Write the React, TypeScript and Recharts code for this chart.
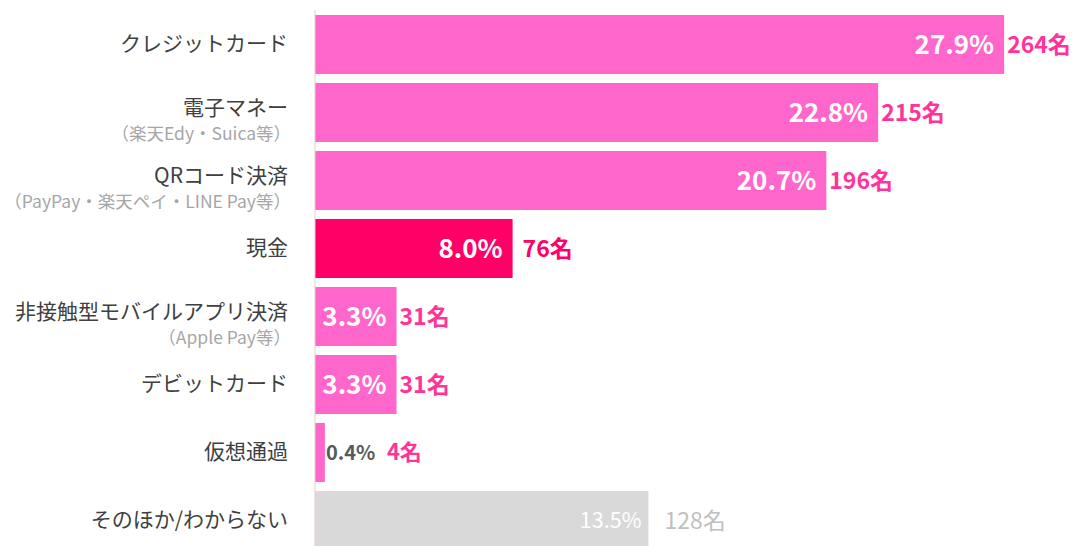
import React from 'react';
import { BarChart, Bar, XAxis, YAxis, Cell, LabelList } from 'recharts';

const categories = [
  'クレジットカード',
  '電子マネー',
  'QRコード決済',
  '現金',
  '非接触型モバイルアプリ決済',
  'デビットカード',
  '仮想通過',
  'そのほか/わからない',
];
const subLabels = ['', '（楽天Edy・Suica等）', '（PayPay・楽天ペイ・LINE Pay等）', '', '（Apple Pay等）', '', '', ''];
const percents = [27.9, 22.8, 20.7, 8.0, 3.3, 3.3, 0.4, 13.5];
const counts = [264, 215, 196, 76, 31, 31, 4, 128];

const barColors = ['#FF66CC', '#FF66CC', '#FF66CC', '#FF0066', '#FF66CC', '#FF66CC', '#FF66CC', '#D9D9D9'];
const countColors = ['#FF3399', '#FF3399', '#FF3399', '#FF0066', '#FF3399', '#FF3399', '#FF3399', '#BFBFBF'];

const FONT = '"Noto Sans CJK JP", "Noto Sans", sans-serif';

const data = categories.map((name, i) => ({ name, value: percents[i], count: counts[i] }));

const CategoryTick = (props: any) => {
  const { y, payload, index } = props;
  const right = 288;
  const sub = subLabels[index];
  if (!sub) {
    return (
      <text x={right} y={y} dy="0.35em" textAnchor="end" fontSize={21} fill="#404040" fontFamily={FONT}>
        {payload.value}
      </text>
    );
  }
  return (
    <g>
      <text x={right} y={y - 4} dy="0.35em" textAnchor="end" fontSize={21} fill="#404040" fontFamily={FONT}>
        {payload.value}
      </text>
      <text x={right + 3} y={y + 22} dy="0.35em" textAnchor="end" fontSize={17.5} fill="#A6A6A6" fontFamily={FONT}>
        {sub}
      </text>
    </g>
  );
};

const ValueLabels = (props: any) => {
  const { x, y, width, height, index } = props;
  const cy = y + height / 2;
  const end = x + width;
  const pct = percents[index].toFixed(1) + '%';
  const cnt = counts[index] + '名';
  if (index === 6) {
    return (
      <g fontFamily={FONT}>
        <text x={end + 1} y={cy} dy="0.35em" fontSize={20} fontWeight="bold" fill="#595959">{pct}</text>
        <text x={end + 62} y={cy} dy="0.35em" fontSize={22} fontWeight="bold" fill={countColors[index]}>{cnt}</text>
      </g>
    );
  }
  if (index === 7) {
    return (
      <g fontFamily={FONT}>
        <text x={end - 7} y={cy} dy="0.35em" textAnchor="end" fontSize={21.5} fill="#FFFFFF">{pct}</text>
        <text x={end + 16} y={cy} dy="0.35em" fontSize={23} fill={countColors[index]}>{cnt}</text>
      </g>
    );
  }
  return (
    <g fontFamily={FONT}>
      <text x={end - 10} y={cy} dy="0.35em" textAnchor="end" fontSize={26} fontWeight="bold" fill="#FFFFFF">{pct}</text>
      <text x={end + (index === 3 ? 10 : 3)} y={cy} dy="0.35em" fontSize={23} fontWeight="bold" fill={countColors[index]}>{cnt}</text>
    </g>
  );
};

export default function App() {
  return (
    <div style={{ position: 'fixed', left: 0, top: 0, width: 1082, height: 546, overflow: 'hidden', background: '#fff' }}>
      <BarChart
        width={1082}
        height={556}
        data={data}
        layout="vertical"
        margin={{ top: 10, right: 26, bottom: 2, left: 0 }}
      >
        <XAxis type="number" domain={[0, 30]} hide />
        <YAxis
          type="category"
          dataKey="name"
          width={315}
          axisLine={{ stroke: '#EBC9C9' }}
          tickLine={false}
          tick={<CategoryTick />}
          interval={0}
        />
        <Bar dataKey="value" barSize={59} isAnimationActive={false}>
          {data.map((d, i) => (
            <Cell key={d.name} fill={barColors[i]} />
          ))}
          <LabelList dataKey="value" content={<ValueLabels />} />
        </Bar>
      </BarChart>
    </div>
  );
}
